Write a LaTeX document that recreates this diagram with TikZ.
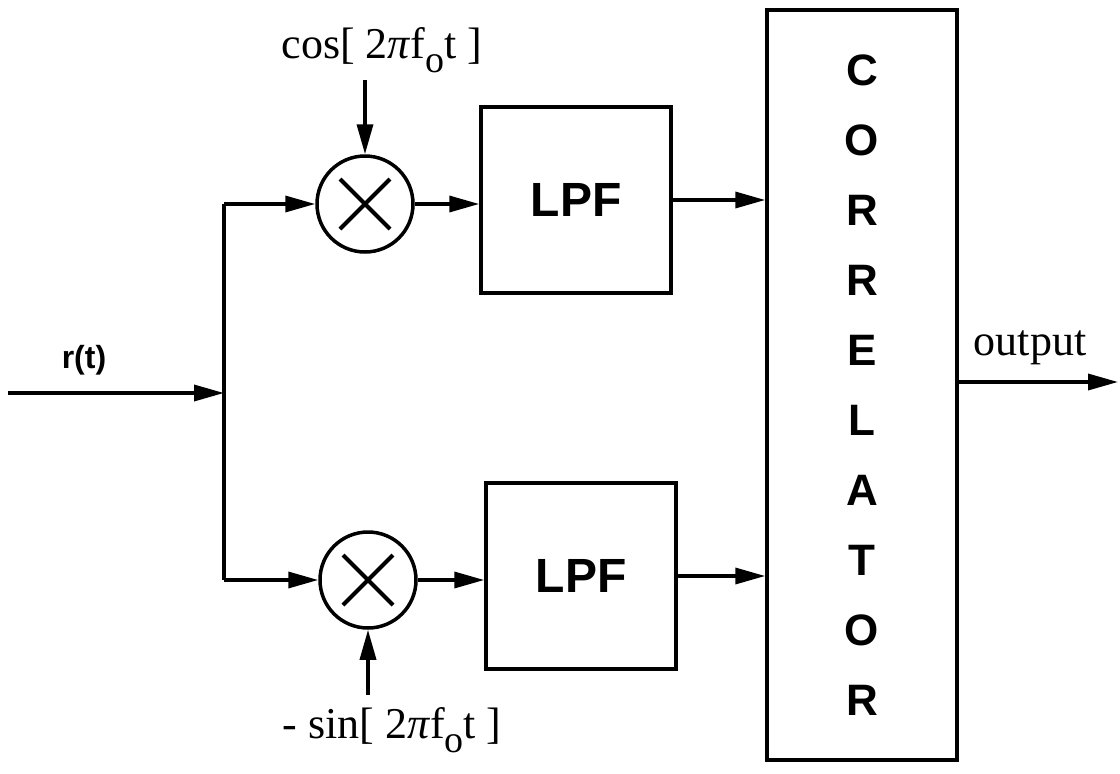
\documentclass[tikz,border=0pt]{standalone}
\usepackage{fontspec}
\setmainfont{Liberation Serif}
\setsansfont{Liberation Sans}
\usetikzlibrary{arrows.meta}
\newcommand{\fsub}{\raisebox{-0.32em}{\fontsize{38}{40}\selectfont o}}
\newcommand{\mypi}{\textit{π}}
\begin{document}
\begin{tikzpicture}[x=1pt,y=-1pt,
  line width=3.5pt,
  sig/.style={-{Triangle[length=30pt,width=16pt]}},
  mixer/.style={draw,circle,minimum size=96pt,inner sep=0pt,
    path picture={\draw[line width=4pt] ([shift={(-25pt,-25pt)}]path picture bounding box.center) -- ([shift={(25pt,25pt)}]path picture bounding box.center)
      ([shift={(-25pt,25pt)}]path picture bounding box.center) -- ([shift={(25pt,-25pt)}]path picture bounding box.center);}},
  lpfbox/.style={draw,rectangle,minimum width=190pt,minimum height=186pt,inner sep=0pt,
    font=\sffamily\bfseries\fontsize{48}{52}\selectfont},
  corrbox/.style={draw,rectangle,minimum width=190pt,minimum height=750pt,inner sep=0pt,align=center,
    font=\sffamily\bfseries\fontsize{44}{70}\selectfont},
  serif/.style={font=\rmfamily\fontsize{44}{50}\selectfont,inner sep=0pt},
  sanslbl/.style={font=\sffamily\bfseries\fontsize{32}{36}\selectfont,inner sep=0pt}]
\useasboundingbox (0,0) rectangle (1120,774);

% nodes
\node[mixer] (m1) at (365,204) {};
\node[mixer] (m2) at (368,580) {};
\node[lpfbox] (lpf1) at (576,200) {LPF};
\node[lpfbox] (lpf2) at (581,576) {LPF};
\node[corrbox] (corr) at (862,385) {C\\O\\R\\R\\E\\L\\A\\T\\O\\R};

\node[serif] (cosl) at (382,50) {cos[ 2\mypi f\fsub t ]};
\node[serif] (sinl) at (392,730) {- sin[ 2\mypi f\fsub t ]};
\node[sanslbl] (rt) at (84,360) {r(t)};
\node[serif] (outl) at (1030,348) {output};

% junction coordinates
\coordinate (in) at (8,393);
\coordinate (j0) at (224,393);
\coordinate (jt) at (224,204);
\coordinate (jb) at (224,580);
\coordinate (out) at (1118,382);

% connectors
\draw[sig] (in) -- (j0);
\draw (jt) -- (jb);
\draw[sig] (jt) -- (m1);
\draw[sig] (jb) -- (m2);
\draw[sig] (m1 |- 0,80) -- (m1);
\draw[sig] (m2 |- 0,695) -- (m2);
\draw[sig] (m1.east) -- (m1.east -| lpf1.west);
\draw[sig] (m2.east) -- (m2.east -| lpf2.west);
\draw[sig] (lpf1.east) -- (lpf1.east -| corr.west);
\draw[sig] (lpf2.east) -- (lpf2.east -| corr.west);
\draw[sig] (out -| corr.east) -- (out);
\end{tikzpicture}
\end{document}
